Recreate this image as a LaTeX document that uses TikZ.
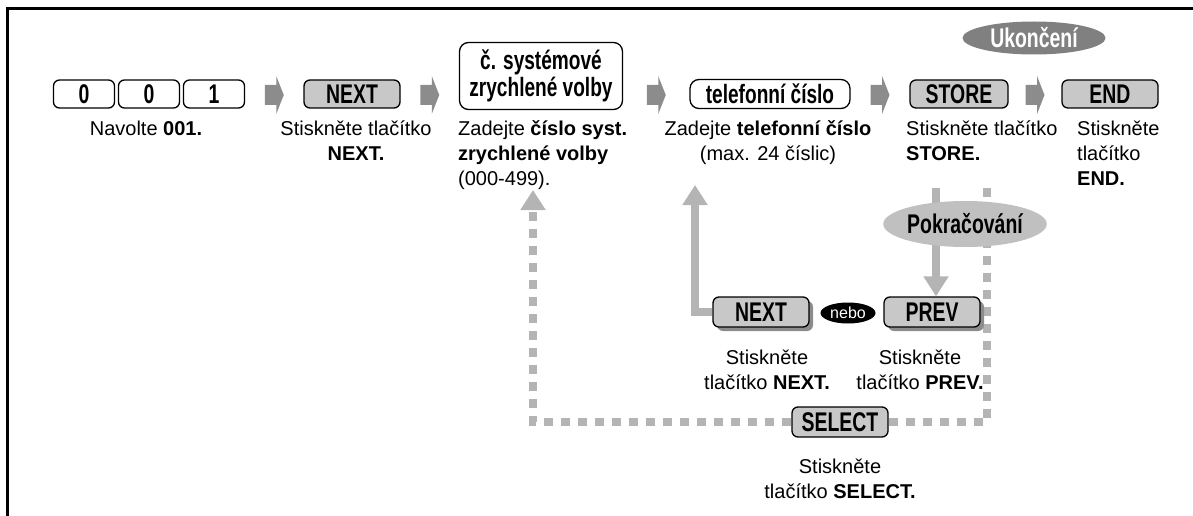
\documentclass[tikz,border=0pt]{standalone}
\usepackage{fontspec}
\setmainfont{Liberation Sans}
\newfontfamily\keyfont{Liberation Sans}[FakeStretch=0.72]
\usetikzlibrary{arrows.meta,shapes.geometric,shadows,backgrounds,calc}
\definecolor{keyfill}{RGB}{200,200,200}
\definecolor{arrgray}{RGB}{140,140,140}
\definecolor{linegray}{RGB}{180,180,180}
\definecolor{endgray}{RGB}{128,128,128}
\definecolor{contgray}{RGB}{192,192,192}
\newcommand{\ts}{\rule{0pt}{20pt}}
\newcommand{\flowarrow}[2]{%
 \coordinate (fa) at ($(#1.east)!0.5!(#2.west)$);
 \fill[arrgray] (fa |- arline) ++(-9.5,-10) -- ++(11.5,0) -- ++(0,-9) -- ++(7.5,19)
  -- ++(-7.5,19) -- ++(0,-9) -- ++(-11.5,0) -- cycle;}

\begin{document}
\begin{tikzpicture}[x=1pt,y=-1pt,
 key/.style={draw,fill=keyfill,line width=1.3pt,rounded corners=6pt,minimum width=96pt,
  minimum height=28pt,inner sep=0pt,font=\keyfont\bfseries\fontsize{27}{28}\selectfont},
 digit/.style={key,fill=white,minimum width=61pt},
 shkey/.style={key,minimum height=30pt,
  drop shadow={shadow xshift=4pt,shadow yshift=-4pt,fill=arrgray,opacity=1}},
 entry/.style={draw,fill=white,line width=1.3pt,rounded corners=9pt,inner sep=0pt,
  align=center,font=\keyfont\bfseries\fontsize{26.5}{27}\selectfont},
 txt/.style={inner sep=0pt,align=center,font=\fontsize{20}{25}\selectfont},
 oval/.style={ellipse,inner sep=0pt,font=\keyfont\bfseries\fontsize{27}{28}\selectfont},
 solidline/.style={draw=linegray,line width=8pt},
 dashline/.style={draw=linegray,line width=8pt,dash pattern=on 9pt off 8pt},
 headarrow/.style={-{Triangle[width=24pt,length=20pt]}}]
 \useasboundingbox (0,0) rectangle (1193,516);
 \draw[line width=3pt] (1193,9) -- (7,9) -- (7,516);
 \coordinate (arline) at (0,95);
 % top row
 \node[digit] (k0a) at (84,94) {0};
 \node[digit] (k0b) at (149,94) {0};
 \node[digit] (k1) at (214,94) {1};
 \node[key] (kNext) at (352,94) {NEXT};
 \node[entry,minimum width=163pt,minimum height=67pt] (sys) at (541,76) {č. systémové\\zrychlené volby};
 \node[entry,minimum width=160pt,minimum height=29pt] (tel) at (770,94) {telefonní číslo};
 \node[key,minimum width=98pt] (kStore) at (959,94) {STORE};
 \node[key] (kEnd) at (1110,94) {END};
 \node[oval,fill=endgray,text=white,minimum width=143pt,minimum height=33pt] (fin) at (1034,38) {Ukončení};
 \flowarrow{k1}{kNext}
 \flowarrow{kNext}{sys}
 \flowarrow{sys}{tel}
 \flowarrow{tel}{kStore}
 \flowarrow{kStore}{kEnd}
 \node[txt,anchor=north] (tDial) at (146,115) {\ts Navolte \textbf{001.}};
 \node[txt,anchor=north] (tNext) at (356,115) {\ts Stiskněte tlačítko\\\textbf{NEXT.}};
 \node[txt,anchor=north west,align=left] (tSys) at (458,115)
  {\ts Zadejte \textbf{číslo syst.}\\\textbf{zrychlené volby}\\(000-499).};
 \node[txt,anchor=north] (tTel) at (768,115) {\ts Zadejte \textbf{telefonní číslo}\\(max. 24 číslic)};
 \node[txt,anchor=north west,align=left] (tStore) at (906,115) {\ts Stiskněte tlačítko\\\textbf{STORE.}};
 \node[txt,anchor=north west,align=left] (tEnd) at (1077,115) {\ts Stiskněte\\tlačítko\\\textbf{END.}};
 % lower part
 \node[oval,fill=contgray,minimum width=158pt,minimum height=46pt] (cont) at (965,224) {Pokračování};
 \node[shkey] (kNext2) at (761,312) {NEXT};
 \node[ellipse,fill=black,text=white,inner sep=0pt,minimum width=55pt,minimum height=21pt,
  font=\fontsize{16}{16}\selectfont] (or) at (848,313) {nebo};
 \node[shkey] (kPrev) at (932,312) {PREV};
 \node[key,minimum height=30pt] (kSel) at (840,422) {SELECT};
 \node[txt,anchor=north] (tNext2) at (767,344) {\ts Stiskněte\\tlačítko \textbf{NEXT.}};
 \node[txt,anchor=north] (tPrev) at (920,344) {\ts Stiskněte\\tlačítko \textbf{PREV.}};
 \node[txt,anchor=north] (tSel) at (840,453) {\ts Stiskněte\\tlačítko \textbf{SELECT.}};
 \coordinate (storeout) at (936,188);
 \coordinate (selout) at (987,188);
 \coordinate (systop) at (533,190);
 \coordinate (teltop) at (695,185);
 \begin{scope}[on background layer]
  \draw[solidline,headarrow] (storeout) -- (storeout |- kPrev.north);
  \draw[solidline,headarrow] (kNext2.west) -| (teltop);
  \draw[dashline] (selout) |- (kSel.east);
  \draw[dashline,headarrow] (kSel.west) -| (systop);
 \end{scope}
\end{tikzpicture}
\end{document}
